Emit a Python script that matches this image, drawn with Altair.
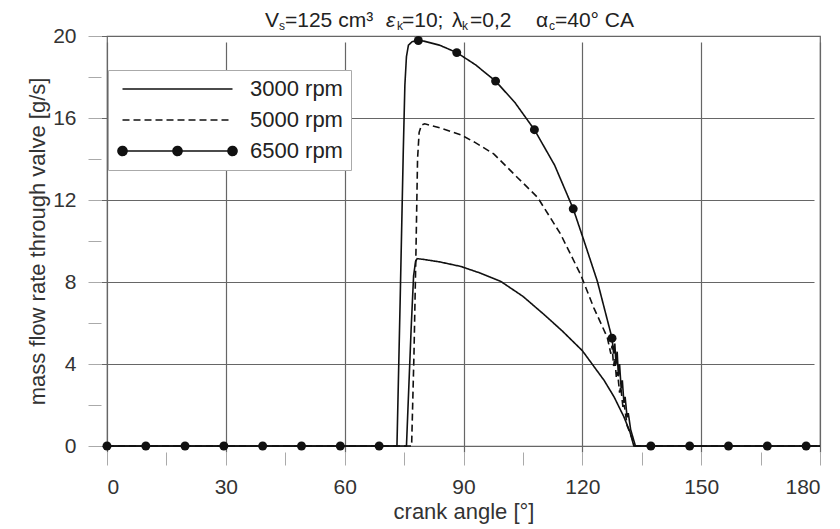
import altair as alt
import pandas as pd

FONT = "Liberation Sans"

series_names = ["3000 rpm", "5000 rpm", "6500 rpm"]

angle_3000 = [0, 75.6, 76.2, 76.8, 77.4, 77.9, 78.3, 80.0, 84.0, 89.3, 94.0, 99.4, 105.0, 110.3,
              115.0, 120.0, 125.5, 128.0, 130.5, 132.0, 133.0, 180]
flow_3000 = [0, 0, 2.9, 5.8, 8.3, 9.0, 9.14, 9.1, 8.98, 8.76, 8.45, 8.03, 7.3, 6.42,
             5.6, 4.65, 3.2, 2.4, 1.42, 0.7, 0, 0]

angle_5000 = [0, 76.9, 77.5, 78.0, 78.4, 78.8, 79.4, 80.2, 84.0, 89.3, 93.0, 97.7, 103.6, 108.7,
              114.5, 119.6, 122.9, 126.3, 127.2, 127.5, 127.9, 128.2, 128.6, 128.9, 129.4,
              129.7, 130.3, 130.6, 131.3, 132.3, 133.3, 180]
flow_5000 = [0, 0, 4.5, 9.5, 14.0, 15.3, 15.66, 15.72, 15.52, 15.18, 14.8, 14.24, 13.1, 12.13,
             10.34, 8.35, 6.74, 5.3, 4.5, 4.9, 3.9, 4.3, 3.3, 3.6, 2.6,
             2.9, 1.8, 2.0, 1.0, 0.5, 0, 0]

angle_6500 = [0, 73.2, 73.6, 74.0, 74.4, 74.8, 75.2, 75.6, 76.1, 77.0, 78.6, 80.0, 84.0, 88.3,
              93.0, 98.1, 103.0, 107.9, 113.0, 117.7, 120.4, 123.8, 127.5, 127.9, 128.2,
              128.5, 128.8, 129.1, 129.4, 129.8, 130.1, 130.5, 130.8, 131.3, 131.6, 132.2,
              133.4, 180]
flow_6500 = [0, 0, 3.5, 7.0, 10.7, 14.4, 17.6, 19.0, 19.55, 19.72, 19.78, 19.75, 19.55, 19.19,
             18.6, 17.8, 16.75, 15.43, 13.7, 11.57, 10.02, 8.03, 5.26, 4.5, 5.0,
             4.0, 4.6, 3.4, 4.0, 2.8, 3.2, 2.1, 2.4, 1.4, 1.6, 0.8,
             0, 0]

marker_angle = [0, 9.8, 19.7, 29.5, 39.3, 49.1, 58.9, 68.7, 78.6, 88.3, 98.1, 107.9, 117.7,
                127.5, 137.3, 147.1, 156.9, 166.7, 176.5]
marker_flow = [0, 0, 0, 0, 0, 0, 0, 0, 19.78, 19.19, 17.8, 15.43, 11.57,
               5.26, 0, 0, 0, 0, 0]

x_ticks = list(range(0, 181, 15))
y_ticks = list(range(0, 21, 2))

rows = []
for name, xs, ys in zip(series_names, [angle_3000, angle_5000, angle_6500],
                        [flow_3000, flow_5000, flow_6500]):
    for i, (a, f) in enumerate(zip(xs, ys)):
        rows.append({"angle": a, "flow": f, "series": name, "order": i})
lines_df = pd.DataFrame(rows)
markers_df = pd.DataFrame({"angle": marker_angle, "flow": marker_flow})

x_enc = alt.X(
    "angle:Q",
    scale=alt.Scale(domain=[0, 180], nice=False),
    axis=alt.Axis(
        values=x_ticks,
        labelExpr="datum.value % 30 == 0 ? datum.label : ''",
        gridOpacity={"condition": {"test": "datum.value % 30 == 0", "value": 1}, "value": 0},
        title="crank angle [°]",
        labelPadding=11,
        titlePadding=4,
    ),
)
y_enc = alt.Y(
    "flow:Q",
    scale=alt.Scale(domain=[0, 20], nice=False),
    axis=alt.Axis(
        values=y_ticks,
        labelExpr="datum.value % 4 == 0 ? datum.label : ''",
        gridOpacity={"condition": {"test": "datum.value % 4 == 0", "value": 1}, "value": 0},
        title="mass flow rate through valve [g/s]",
        labelPadding=12,
        titlePadding=3,
    ),
)

# legend symbol: size 100 -> 1 unit = 5 px; symbol centre 5 px from entry start
dot = "a0.9,0.9 0 1,0 1.8,0a0.9,0.9 0 1,0 -1.8,0"
dotted_path = ("M-0.9,0L21.1,0M-1.8,0" + dot + "M9.2,0" + dot + "M20.2,0" + dot)
plain_path = "M-0.9,0L21.1,0"
shape_expr = "datum.value === '6500 rpm' ? '" + dotted_path + "' : '" + plain_path + "'"

legend = alt.Legend(
    title=None,
    orient="none",
    legendX=1,
    legendY=34,
    padding=8,
    fillColor="white",
    strokeColor="#aaa",
    labelFont=FONT,
    labelFontSize=22,
    labelColor="#222",
    labelOffset=112,
    symbolSize=100,
    symbolStrokeWidth=1.6,
    symbolStrokeColor="#111",
    symbolFillColor="#111",
    symbolType=alt.ExprRef(shape_expr),
    rowPadding=9,
)

lines = alt.Chart(lines_df).mark_line(color="#111", strokeWidth=1.6).encode(
    x=x_enc,
    y=y_enc,
    order="order:Q",
    strokeDash=alt.StrokeDash(
        "series:N",
        scale=alt.Scale(domain=series_names, range=[[1, 0], [7, 4], [1, 0]]),
        legend=legend,
    ),
)

points = alt.Chart(markers_df).mark_point(filled=True, color="#111", size=80, opacity=1).encode(
    x="angle:Q", y="flow:Q"
)

# Title made of pieces (with sub-/superscripts); x in page pixels
title_parts = [
    ("V", 265, "main", "normal"),
    ("s", 279, "sub", "normal"),
    ("=125 cm³", 285, "main", "normal"),
    ("ε", 386, "main", "italic"),
    ("k", 397, "sub", "normal"),
    ("=10;", 402, "main", "normal"),
    ("λ", 452, "main", "normal"),
    ("k", 462, "sub", "normal"),
    ("=0,2", 470, "main", "normal"),
    ("α", 536, "main", "normal"),
    ("c", 549, "sub", "normal"),
    ("=40° CA", 555, "main", "normal"),
]
title_layers = []
for txt, px, kind, style in title_parts:
    size = 21 if kind == "main" else 12
    py = -9 if kind == "main" else -6
    title_layers.append(
        alt.Chart(pd.DataFrame({"t": [txt]})).mark_text(
            align="left", baseline="alphabetic", font=FONT, fontSize=size,
            fontStyle=style, color="#222"
        ).encode(text="t:N", x=alt.value(px - 107), y=alt.value(py))
    )

chart = alt.layer(lines, points, *title_layers).properties(
    width=713,
    height=410,
    padding={"left": 99, "top": 28, "right": 12, "bottom": 80},
    autosize=alt.AutoSizeParams(type="none"),
).configure_view(
    stroke="#666", strokeWidth=1.2
).configure_axis(
    domain=False,
    offset=6,
    tickSize=13,
    tickColor="#aaa",
    tickWidth=1,
    labelFont=FONT,
    labelFontSize=21,
    labelColor="#333",
    titleFont=FONT,
    titleFontSize=22,
    titleFontWeight="normal",
    titleColor="#333",
    gridColor="#666",
    gridWidth=1.2,
)

chart.save("out.html", embed_options={"renderer": "svg", "actions": False})
